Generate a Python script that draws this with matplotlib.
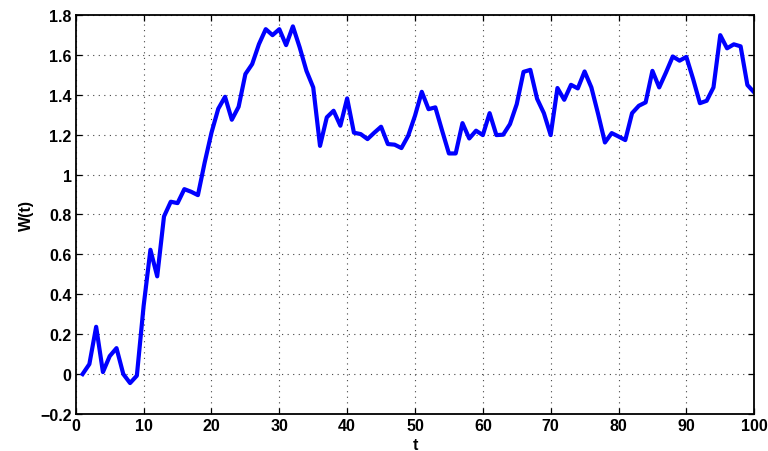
import matplotlib
matplotlib.use("Agg")
import matplotlib.pyplot as plt
import numpy as np

# sample path W(t), t = 1..100
t = np.arange(1, 101)
w = [
    0.00, 0.05, 0.237, 0.01, 0.09, 0.13, 0.00, -0.045, -0.008, 0.342,
    0.623, 0.49, 0.79, 0.864, 0.857, 0.927, 0.914, 0.897, 1.061, 1.21,
    1.33, 1.39, 1.275, 1.34, 1.504, 1.554, 1.654, 1.729, 1.699, 1.729,
    1.649, 1.743, 1.638, 1.52, 1.437, 1.144, 1.287, 1.32, 1.245, 1.382,
    1.21, 1.203, 1.178, 1.21, 1.24, 1.153, 1.15, 1.133, 1.195, 1.295,
    1.415, 1.328, 1.337, 1.22, 1.106, 1.106, 1.258, 1.181, 1.22, 1.198,
    1.308, 1.198, 1.20, 1.253, 1.353, 1.515, 1.525, 1.38, 1.308, 1.198,
    1.434, 1.375, 1.45, 1.432, 1.517, 1.437, 1.303, 1.161, 1.208, 1.191,
    1.173, 1.308, 1.345, 1.362, 1.52, 1.437, 1.512, 1.592, 1.571, 1.59,
    1.479, 1.358, 1.37, 1.437, 1.699, 1.633, 1.653, 1.643, 1.449, 1.412,
]

x_ticks = np.arange(0, 101, 10)
y_ticks = np.round(np.arange(-0.2, 1.81, 0.2), 1)
y_labels = ["\u22120.2", "0", "0.2", "0.4", "0.6", "0.8", "1", "1.2", "1.4", "1.6", "1.8"]

plt.rcParams["font.family"] = ["Liberation Sans", "DejaVu Sans"]
plt.rcParams["font.weight"] = "bold"

fig = plt.figure(figsize=(7.68, 4.52), dpi=100)
ax = fig.add_axes([0.0987, 0.0819, 0.8833, 0.8827])

ax.plot(t, w, color="#0000ff", linewidth=3.0)

ax.set_xlim(0, 100)
ax.set_ylim(-0.2, 1.8)
ax.set_xticks(x_ticks)
ax.set_yticks(y_ticks)
ax.set_yticklabels(y_labels)
ax.tick_params(direction="in", top=True, right=True, labelsize=11.5,
               length=4, width=0.9, pad=3)
for lab in ax.get_xticklabels() + ax.get_yticklabels():
    lab.set_fontweight("bold")

ax.grid(True, linestyle=(0, (1, 4)), color="#444444", linewidth=0.8)
for spine in ax.spines.values():
    spine.set_linewidth(1.3)

ax.set_xlabel("t", fontsize=11.5, fontweight="bold", labelpad=3)
ax.set_ylabel("W(t)", fontsize=11.5, fontweight="bold", labelpad=4)

fig.savefig("out.png", dpi=100)
